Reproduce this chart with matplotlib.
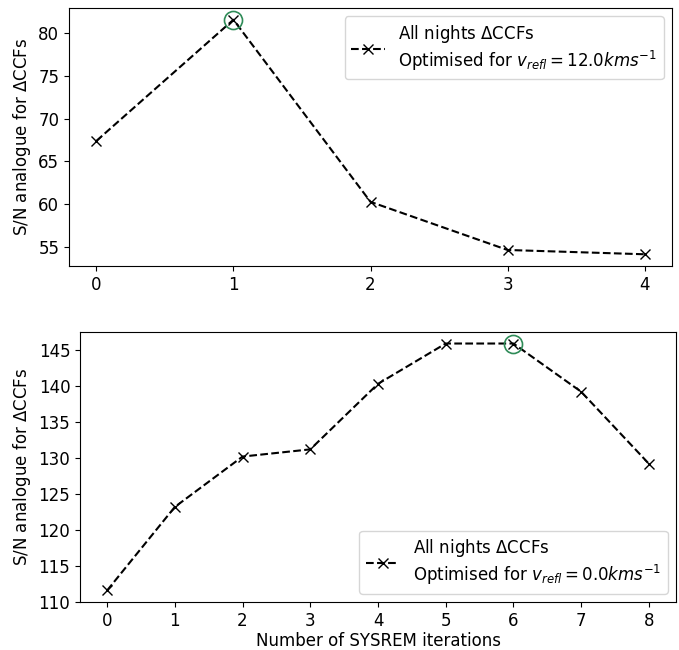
import matplotlib
matplotlib.use("Agg")
import matplotlib.pyplot as plt
from matplotlib.ticker import MultipleLocator

# ---------- data ----------
iters_top = [0, 1, 2, 3, 4]
sn_top = [67.4, 81.5, 60.3, 54.7, 54.2]
best_top = 1

iters_bot = [0, 1, 2, 3, 4, 5, 6, 7, 8]
sn_bot = [111.6, 123.2, 130.2, 131.2, 140.3, 145.9, 145.9, 139.2, 129.2]
best_bot = 6

labels = [r"All nights $\Delta$CCFs" + "\n" + r"Optimised for $v_{refl} = 12.0 kms^{-1}$",
          r"All nights $\Delta$CCFs" + "\n" + r"Optimised for $v_{refl} = 0.0 kms^{-1}$"]

plt.rcParams["font.size"] = 12

fig = plt.figure(figsize=(6.79, 6.5), dpi=100)
ax1 = fig.add_axes([69/679, 1 - 266/650, 603/679, 258/650])
ax2 = fig.add_axes([80/679, 1 - 602/650, 596/679, 270/650])

for ax, x, y, best, lab, loc in [(ax1, iters_top, sn_top, best_top, labels[0], "upper right"),
                                 (ax2, iters_bot, sn_bot, best_bot, labels[1], "lower right")]:
    ax.plot(x, y, "k--x", markersize=7, label=lab)
    ax.plot(x[best], y[best], "o", markersize=13, markerfacecolor="none",
            markeredgecolor="seagreen", markeredgewidth=1.2)
    ax.set_xticks(x)
    ax.set_ylabel(r"S/N analogue for $\Delta$CCFs")
    ax.legend(loc=loc)

ax2.set_ylim(110, 147.5)
ax2.yaxis.set_major_locator(MultipleLocator(5))
ax2.set_xlabel("Number of SYSREM iterations", labelpad=2)

fig.savefig("out.png", dpi=100)
